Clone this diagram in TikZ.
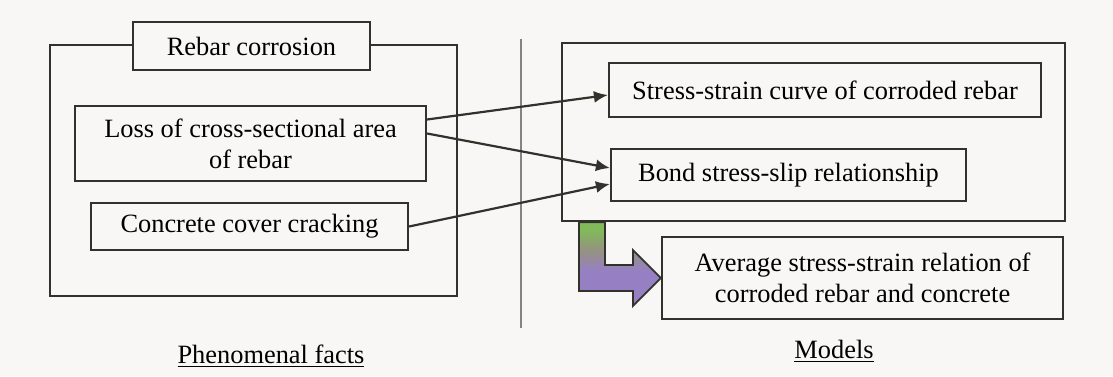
\documentclass[tikz,border=0pt]{standalone}
\usepackage{fontspec}
\setmainfont{Liberation Serif}
\usetikzlibrary{positioning,arrows.meta,calc}
\definecolor{paper}{RGB}{249,247,245}
\definecolor{ink}{RGB}{50,50,45}
\definecolor{leafgreen}{RGB}{130,185,90}
\definecolor{olivegray}{RGB}{150,145,130}
\definecolor{lilac}{RGB}{150,128,195}
\pgfdeclareverticalshading{leafshade}{100bp}{color(0bp)=(lilac); color(46bp)=(lilac);
  color(58bp)=(olivegray); color(70bp)=(leafgreen); color(100bp)=(leafgreen)}
\tikzset{
  box/.style={draw=ink,line width=1.1pt,fill=paper,inner sep=0pt,align=center,
    font=\rmfamily\fontsize{13.2}{15.5}\selectfont},
  frame/.style={draw=ink,line width=1.1pt,inner sep=0pt},
  link/.style={draw=ink,line width=1.1pt,-{Latex[length=7pt,width=6pt]}},
  fat/.style={draw=ink,line width=0.9pt,shading=leafshade},
  caption/.style={font=\rmfamily\fontsize{13.2}{15.5}\selectfont},
}

\begin{document}
\begin{tikzpicture}[x=0.5pt,y=-0.5pt]
  \fill[paper] (0,0) rectangle (1113,376);
  \useasboundingbox (0,0) rectangle (1113,376);
  % phenomenal facts
  \node[frame,minimum width=203.5pt,minimum height=125.5pt] (facts) at (253.5,170.5) {};
  \node[box,minimum width=118.5pt,minimum height=24pt] (corr) at (251.5,46) {Rebar corrosion};
  \node[box,minimum width=175.5pt,minimum height=37.5pt] (loss) at (250.5,143.5)
    {Loss of cross-sectional area\\of rebar};
  \node[box,minimum width=158.5pt,minimum height=23.5pt] (crack) at (249.5,226.5) {Concrete cover cracking};
  \node[caption] (factslbl) at (271,356) {\underline{Phenomenal facts}};
  % divider
  \draw[ink!60,line width=0.6pt] (521,39) -- (521,328);
  % models
  \node[frame,minimum width=251.5pt,minimum height=89pt] (models) at (813.5,132) {};
  \node[box,minimum width=216pt,minimum height=27pt] (ss) at (825,90) {Stress-strain curve of corroded rebar};
  \node[box,minimum width=177.5pt,minimum height=26pt] (bond) at (788.5,175) {Bond stress-slip relationship};
  \node[box,minimum width=200.5pt,minimum height=41pt] (avg) at (862.5,278)
    {Average stress-strain relation of\\corroded rebar and concrete};
  \node[caption] (modelslbl) at (834,351) {\underline{Models}};
  % links
  \draw[link] ($(loss.east)+(0,-24)$) -- ($(ss.west)+(0,5)$);
  \draw[link] ($(loss.east)+(0,-10)$) -- ($(bond.west)+(0,-7)$);
  \draw[link] (crack.east) -- ($(bond.west)+(0,9)$);
  \draw[fat] ($(models.south west)+(18,0)$) coordinate (a) -- ++(26,0)
    |- ($(avg.west)+(-28,-13)$) -- ++(0,-15) -- (avg.west)
    -- ($(avg.west)+(-28,28)$) -- ++(0,-15) -| (a) -- cycle;
\end{tikzpicture}
\end{document}
